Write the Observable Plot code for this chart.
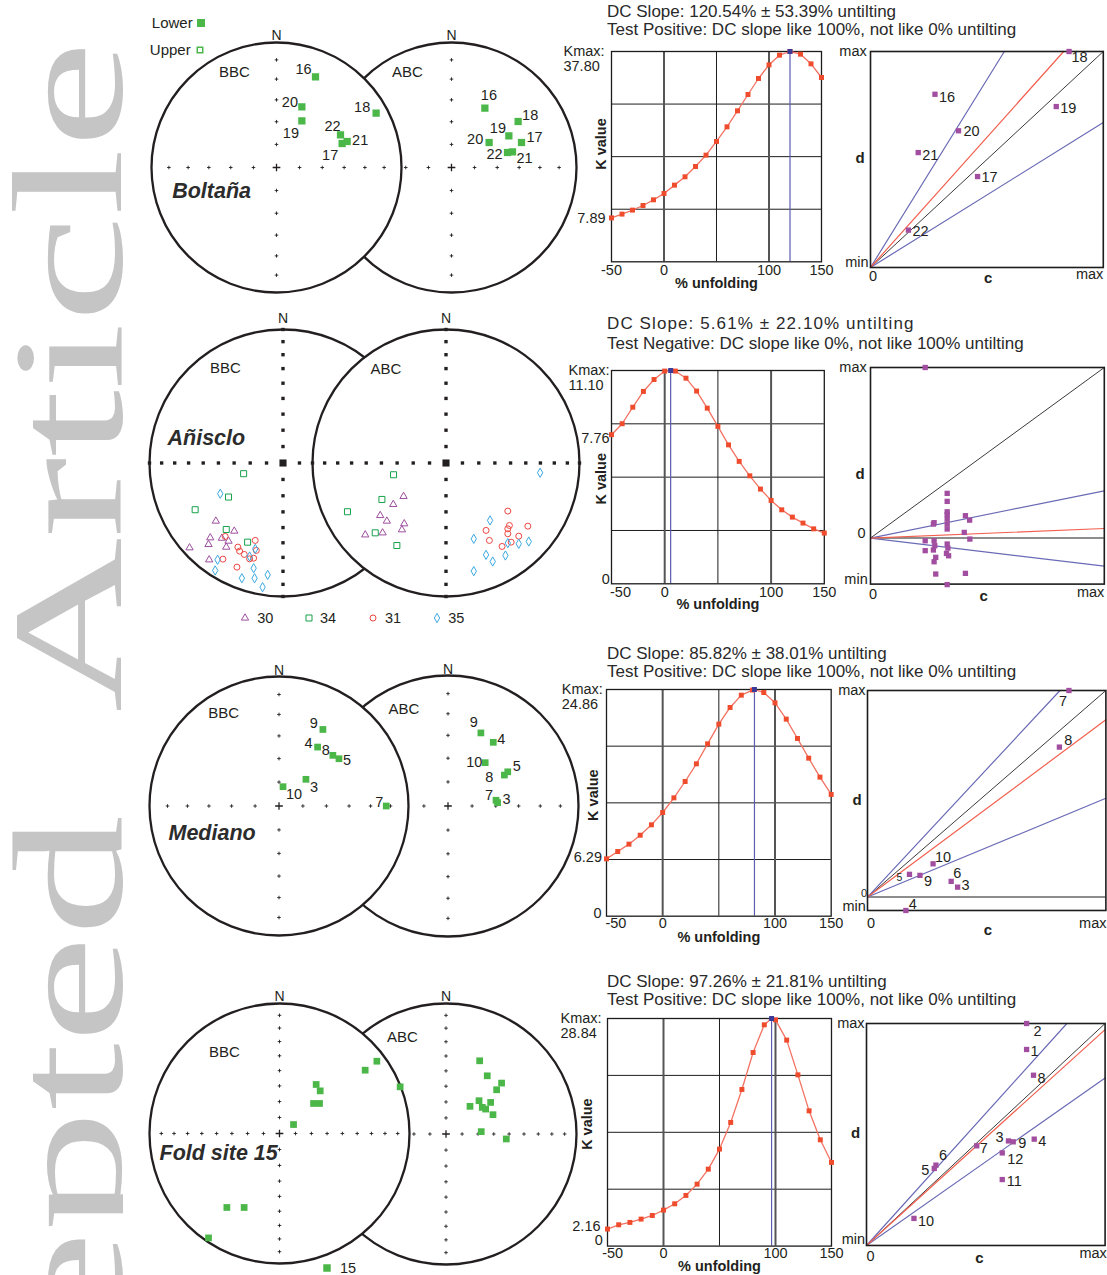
<!DOCTYPE html>
<html>
<head>
<meta charset="utf-8">
<script src="https://cdn.jsdelivr.net/npm/d3@7"></script>
<script src="https://cdn.jsdelivr.net/npm/@observablehq/plot@0.6"></script>
<style>
  html, body { margin: 0; padding: 0; background: #fff; }
  #page { position: relative; width: 1107px; height: 1275px; overflow: hidden; background: #fff;
          font-family: "Liberation Sans", Arial, Helvetica, sans-serif; color: #231f20; }
</style>
</head>
<body>
<div id="page"></div>
<script>
// ======================= DATA =======================
// % unfolding steps of the incremental fold test
const unfolding = [-50,-40,-30,-20,-10,0,10,20,30,40,50,60,70,80,90,100,110,120,130,140,150];
const xTickLabels = [-50, 0, 100, 150];

// K value at each unfolding step
const kBoltana = [7.89,8.57,9.29,10.12,11.14,12.28,13.78,15.28,17.13,19.17,21.63,24.26,27.14,30.07,32.95,35.40,37.14,37.80,37.32,35.58,33.13];
const kAnisclo = [7.76,8.33,9.19,10.01,10.63,11.07,11.07,10.70,10.03,9.14,8.19,7.23,6.37,5.62,4.93,4.34,3.85,3.47,3.16,2.86,2.64];
const kMediano = [6.29,7.09,7.90,8.88,10.02,11.37,12.98,14.77,16.71,18.90,21.06,22.89,24.24,24.80,24.53,23.40,21.61,19.49,17.33,15.25,13.35];
const kFold    = [2.16,2.70,3.00,3.42,3.88,4.56,5.36,6.42,7.85,9.75,12.29,15.67,19.85,24.53,28.04,28.67,26.10,21.70,17.14,13.47,10.60];

// Kmax, value at -50 %, and % unfolding at Kmax
const kmaxValues = [37.80, 11.10, 24.86, 28.84];
const kminValues = [7.89, 7.76, 6.29, 2.16];
const kmaxAt     = [120, 5.6, 81.7, 96.5];

// DC slope test (Enkin): slope and error in %
const dcSlope = [120.54, 5.61, 85.82, 97.26];
const dcError = [53.39, 22.10, 38.01, 21.81];
const dcTest  = ["Test Positive: DC slope like 100%, not like 0% untilting",
                 "Test Negative: DC slope like 0%, not like 100% untilting",
                 "Test Positive: DC slope like 100%, not like 0% untilting",
                 "Test Positive: DC slope like 100%, not like 0% untilting"];
const siteNames = ["Boltaña", "Añisclo", "Mediano", "Fold site 15"];

// Site means on equal-area nets (east, north in net radius units), BBC = before, ABC = after bedding correction
const boltanaBBC = [
  {site:"16", e:0.312, n:0.725}, {site:"20", e:0.203, n:0.485}, {site:"19", e:0.203, n:0.373},
  {site:"18", e:0.797, n:0.435}, {site:"22", e:0.512, n:0.261}, {site:"21", e:0.565, n:0.208},
  {site:"17", e:0.525, n:0.192}];
const boltanaABC = [
  {site:"16", e:0.267, n:0.475}, {site:"18", e:0.533, n:0.368}, {site:"19", e:0.459, n:0.253},
  {site:"17", e:0.560, n:0.200}, {site:"20", e:0.301, n:0.200}, {site:"22", e:0.448, n:0.120},
  {site:"21", e:0.488, n:0.125}];

// Añisclo specimen directions (upper hemisphere), per site
const anisclo30BBC = [[-0.503,-0.435],[-0.365,-0.51],[-0.545,-0.56],[-0.558,-0.61],[-0.458,-0.563],[-0.408,-0.585],[-0.425,-0.63],[-0.70,-0.635],[-0.553,-0.725]];
const anisclo34BBC = [[-0.295,-0.08],[-0.408,-0.255],[-0.658,-0.35],[-0.425,-0.498],[-0.265,-0.593]];
const anisclo31BBC = [[-0.433,-0.55],[-0.208,-0.58],[-0.338,-0.63],[-0.325,-0.66],[-0.29,-0.685],[-0.22,-0.713],[-0.25,-0.718],[-0.45,-0.72],[-0.345,-0.78],[-0.2,-0.655]];
const anisclo35BBC = [[-0.47,-0.23],[-0.208,-0.643],[-0.25,-0.70],[-0.49,-0.725],[-0.508,-0.805],[-0.22,-0.788],[-0.308,-0.863],[-0.213,-0.863],[-0.115,-0.838],[-0.153,-0.93]];
const anisclo30ABC = [[-0.318,-0.25],[-0.395,-0.31],[-0.493,-0.393],[-0.443,-0.435],[-0.313,-0.455],[-0.33,-0.50],[-0.475,-0.523],[-0.605,-0.538]];
const anisclo34ABC = [[-0.393,-0.088],[-0.48,-0.273],[-0.738,-0.365],[-0.53,-0.523],[-0.368,-0.618]];
const anisclo31ABC = [[0.463,-0.36],[0.475,-0.468],[0.463,-0.493],[0.463,-0.53],[0.30,-0.505],[0.325,-0.58],[0.613,-0.473],[0.545,-0.548],[0.488,-0.593],[0.42,-0.625]];
const anisclo35ABC = [[0.705,-0.073],[0.33,-0.43],[0.208,-0.568],[0.463,-0.60],[0.545,-0.605],[0.62,-0.588],[0.30,-0.688],[0.35,-0.738],[0.445,-0.693],[0.208,-0.81]];
const aniscloSites = ["30", "34", "31", "35"];

const medianoBBC = [
  {site:"9", e:0.339, n:0.591}, {site:"4", e:0.298, n:0.455}, {site:"8", e:0.416, n:0.391},
  {site:"5", e:0.463, n:0.365}, {site:"3", e:0.208, n:0.206}, {site:"10", e:0.031, n:0.149},
  {site:"7", e:0.828, n:0.0}];
const medianoABC = [
  {site:"9", e:0.252, n:0.560}, {site:"4", e:0.347, n:0.488}, {site:"10", e:0.285, n:0.332},
  {site:"5", e:0.458, n:0.262}, {site:"8", e:0.432, n:0.237}, {site:"7", e:0.368, n:0.044},
  {site:"3", e:0.380, n:0.026}];

const foldBBC = [[0.282,0.377],[0.313,0.328],[0.262,0.231],[0.308,0.231],[0.108,0.069],[0.659,0.487],[0.749,0.556],[0.928,0.359],[-0.405,-0.569],[-0.272,-0.569],[-0.546,-0.803]];
const foldABC = [[0.258,0.561],[0.316,0.446],[0.426,0.390],[0.388,0.339],[0.253,0.255],[0.342,0.242],[0.184,0.212],[0.278,0.204],[0.304,0.191],[0.360,0.148],[0.270,0.018],[0.462,-0.038]];

// DC plots: c (0..max) and d (min..max), normalised to max
const cdBoltana = [
  {site:"18", c:0.853, d:1.0}, {site:"16", c:0.277, d:0.802}, {site:"19", c:0.798, d:0.745},
  {site:"20", c:0.378, d:0.633}, {site:"21", c:0.205, d:0.532}, {site:"17", c:0.460, d:0.421},
  {site:"22", c:0.163, d:0.173}];
const cdAnisclo = [[0.234,1.0],
  [0.328,0.262],[0.328,0.215],[0.328,0.154],[0.328,0.137],[0.328,0.111],[0.328,0.082],[0.328,0.053],
  [0.269,0.082],[0.272,0.090],[0.406,0.131],[0.424,0.105],[0.401,0.033],[0.425,-0.006],
  [0.234,-0.016],[0.234,-0.074],[0.272,-0.016],[0.275,-0.045],[0.269,-0.070],[0.279,-0.113],[0.272,-0.139],
  [0.328,-0.035],[0.331,-0.059],[0.334,-0.104],[0.325,-0.090],[0.279,-0.211],[0.328,-0.273],[0.406,-0.207]];
const cdMediano = [
  {site:"7", c:0.845, d:1.0}, {site:"8", c:0.805, d:0.726}, {site:"10", c:0.275, d:0.161},
  {site:"5", c:0.176, d:0.110}, {site:"9", c:0.220, d:0.105}, {site:"6", c:0.351, d:0.076},
  {site:"3", c:0.378, d:0.048}, {site:"4", c:0.161, d:-0.065}];
const cdFold = [
  {site:"2", c:0.671, d:1.0}, {site:"1", c:0.671, d:0.883}, {site:"8", c:0.700, d:0.767},
  {site:"4", c:0.703, d:0.479}, {site:"3", c:0.595, d:0.471}, {site:"9", c:0.615, d:0.467},
  {site:"12", c:0.569, d:0.417}, {site:"7", c:0.462, d:0.449}, {site:"11", c:0.569, d:0.297},
  {site:"6", c:0.291, d:0.362}, {site:"5", c:0.284, d:0.347}, {site:"10", c:0.199, d:0.122}];
const cdMin = [0, -0.27, -0.065, 0];

// ======================= STYLE / LAYOUT =======================
const FONT = '"Liberation Sans", Arial, Helvetica, sans-serif';
const INK = "#231f20";
const GREEN = "#4cb749";
const PURPLE = "#a24ea0";
const page = document.getElementById("page");
const NS = "http://www.w3.org/2000/svg";

// label offsets (px) for point labels
const offBoltanaBBC = {"16":[-12,-8],"20":[-12,-5],"19":[-11,12],"18":[-14,-6],"22":[-8,-9],"21":[13,-1],"17":[-12,12]};
const offBoltanaABC = {"16":[4,-13],"18":[12,-6],"19":[-11,-8],"17":[13,-5],"20":[-14,-3],"22":[-13,2],"21":[12,6]};
const offMedianoBBC = {"9":[-9,-6],"4":[-9,-4],"8":[-7,-5],"5":[8,2],"3":[8,8],"10":[11,8],"7":[-7,-4]};
const offMedianoABC = {"9":[-7,-11],"4":[8,-3],"10":[-11,0],"5":[9,-5],"8":[-15,2],"7":[-7,-5],"3":[9,-3]};
const offCdBoltana = {"18":[10.5,6],"16":[12,3],"19":[12,2],"20":[13,1],"21":[12,3],"17":[12,1],"22":[12,1]};
const offCdMediano = {"7":[-6,11],"8":[9,-7],"10":[10,-6],"5":[-10,3],"9":[8,6],"6":[6,-8],"3":[8,-2],"4":[7,-6]};
const offCdFold = {"2":[11,8],"1":[8,2],"8":[8,3],"4":[8,2],"3":[-9,-4],"9":[9,1.5],"12":[13,6],"7":[7,3],"11":[12,2],"6":[7,-10],"5":[-9,2],"10":[12,3]};

const aniscloStyle = {
  "30": {symbol:"triangle", stroke:"#9c4f9e", r:2.7},
  "34": {symbol:"square",   stroke:"#16a24b", r:3.4},
  "31": {symbol:"circle",   stroke:"#ec4640", r:3.0},
  "35": {symbol:"diamond",  stroke:"#3aa8e1", r:2.8}
};

function put(el, left, top) {
  el.style.position = "absolute";
  el.style.left = left + "px";
  el.style.top = top + "px";
  el.style.overflow = "visible";
  page.appendChild(el);
  return el;
}
function label(str, {x, cy, size = 15, weight = "normal", anchor = "start", spacing = 0, color = INK}) {
  const d = document.createElement("div");
  d.textContent = str;
  Object.assign(d.style, {position: "absolute", whiteSpace: "nowrap", fontFamily: FONT, fontSize: size + "px",
    fontWeight: weight, lineHeight: (size * 1.2) + "px", color, letterSpacing: spacing + "px"});
  d.style.top = (cy - size * 0.59) + "px";
  if (anchor === "end") d.style.right = (1107 - x) + "px"; else d.style.left = x + "px";
  page.appendChild(d);
}
function icon(type, size, cx, cy, {fill = "none", stroke = "none", sw = 1}) {
  const svg = document.createElementNS(NS, "svg");
  svg.setAttribute("width", 20); svg.setAttribute("height", 20);
  const p = document.createElementNS(NS, "path");
  p.setAttribute("d", d3.symbol(type, size)());
  p.setAttribute("transform", "translate(10,10)");
  p.setAttribute("fill", fill); p.setAttribute("stroke", stroke); p.setAttribute("stroke-width", sw);
  svg.appendChild(p);
  put(svg, cx - 10, cy - 10);
}

const baseStyle = {background: "transparent", overflow: "visible", fontFamily: FONT, color: INK};

// ---------- stereonet ----------
function netPlot({cx, cy, R, incs, tick, fill, nGap, name, nameOff, site, marks}) {
  const M = 30;
  const ticks = [];
  incs.forEach(inc => {
    const r = Math.SQRT2 * Math.sin((90 - inc) / 2 * Math.PI / 180);
    ticks.push({x: r, y: 0}, {x: -r, y: 0}, {x: 0, y: r}, {x: 0, y: -r});
  });
  const centre = [{x: 0, y: 0}];
  const tickMarks = tick === "plus"
    ? [Plot.dot(ticks, {x: "x", y: "y", symbol: "plus", r: 1.25, stroke: INK, strokeWidth: 0.9}),
       Plot.dot(centre, {x: "x", y: "y", symbol: "plus", r: 2.6, stroke: INK, strokeWidth: 1.3})]
    : [Plot.dot(ticks, {x: "x", y: "y", symbol: "square", r: 1.9, fill: INK}),
       Plot.dot(centre, {x: "x", y: "y", symbol: "square", r: 4, fill: INK})];
  const all = [
    Plot.dot(centre, {x: "x", y: "y", r: R, stroke: INK, strokeWidth: 2.3, fill}),
    ...tickMarks,
    Plot.text(["N"], {x: 0, y: 1, dy: -nGap, fontSize: 14, fill: INK}),
    Plot.text([name], {x: 0, y: 0, dx: nameOff[0], dy: nameOff[1], fontSize: 15, fill: INK}),
    site ? Plot.text([site.name], {x: -1, y: 0, dx: site.dx, dy: site.dy, textAnchor: "start", fontSize: 21.5,
      fontWeight: "bold", fontStyle: "italic", fill: "#2c2c2c"}) : null,
    ...marks
  ].filter(Boolean);
  const svg = Plot.plot({
    width: 2 * R + 2 * M, height: 2 * R + 2 * M, margin: M,
    x: {domain: [-1, 1]}, y: {domain: [-1, 1]}, axis: null,
    style: baseStyle, marks: all
  });
  put(svg, cx - R - M, cy - R - M);
}
function labelledSquares(points, offs, r) {
  return [
    Plot.dot(points, {x: "e", y: "n", symbol: "square", r, fill: GREEN}),
    ...points.map(p => Plot.text([p], {x: "e", y: "n", text: "site", dx: offs[p.site][0], dy: offs[p.site][1], fontSize: 14.5, fill: INK}))
  ];
}
function plainSquares(pairs, r) {
  return [Plot.dot(pairs, {x: d => d[0], y: d => d[1], symbol: "square", r, fill: GREEN})];
}
function aniscloMarks(sets) {
  return aniscloSites.map((s, i) => {
    const st = aniscloStyle[s];
    return Plot.dot(sets[i], {x: d => d[0], y: d => d[1], symbol: st.symbol, r: st.r, fill: "none", stroke: st.stroke, strokeWidth: 1});
  });
}

// ---------- K value vs % unfolding ----------
function kPlot(i, {frame: [x0, x1, y0, y1], kmaxDx, minOff, zero, kv, firstDx, tickDy, xlabDy}) {
  const ML = 60, MR = 14, MT = 14, MB = 40;
  const values = [kBoltana, kAnisclo, kMediano, kFold][i];
  const kmax = kmaxValues[i], kmin = kminValues[i];
  const data = unfolding.map((u, j) => ({u, k: values[j]}));
  const peak = {u: kmaxAt[i], k: kmax};
  const lineData = [...data, peak].sort((a, b) => a.u - b.u);
  const fs = 14.5;
  const marks = [
    Plot.ruleY([0.25, 0.5, 0.75].map(f => f * kmax), {stroke: "#1c1c1c", strokeWidth: 1}),
    Plot.ruleX([50], {stroke: "#1c1c1c", strokeWidth: 1}),
    Plot.ruleX([0, 100], {stroke: "#555", strokeWidth: 2}),
    Plot.ruleX([peak.u], {stroke: "#5c5cb0", strokeWidth: 1.2}),
    Plot.frame({stroke: "#1c1c1c", strokeWidth: 1.3}),
    Plot.line(lineData, {x: "u", y: "k", stroke: "#f37262", strokeWidth: 1.3}),
    Plot.dot(data, {x: "u", y: "k", symbol: "square", r: 2.8, fill: "#ef4b2d"}),
    Plot.dot([peak], {x: "u", y: "k", symbol: "square", r: 2.8, fill: "#3c3b98"}),
    Plot.text([xTickLabels[0]], {x: d => d, frameAnchor: "bottom", lineAnchor: "middle", dy: tickDy, dx: firstDx, text: d => String(d), fontSize: fs}),
    Plot.text(xTickLabels.slice(1), {x: d => d, frameAnchor: "bottom", lineAnchor: "middle", dy: tickDy, text: d => String(d), fontSize: fs}),
    Plot.text(["% unfolding"], {frameAnchor: "bottom", lineAnchor: "middle", textAnchor: "middle", dy: xlabDy, fontWeight: "bold", fontSize: fs}),
    Plot.text(["K value"], {frameAnchor: "left", textAnchor: "middle", lineAnchor: "middle", rotate: -90, dx: kv[0], dy: kv[1], fontWeight: "bold", fontSize: fs}),
    Plot.text([`Kmax:\n${kmax.toFixed(2)}`], {frameAnchor: "top-left", textAnchor: "start", lineAnchor: "top", dx: kmaxDx, dy: -7.3, lineHeight: 1.1, fontSize: fs}),
    Plot.text([kmin], {x: -50, y: d => d, text: d => d.toFixed(2), textAnchor: "end", dx: minOff[0], dy: minOff[1], fontSize: fs}),
    zero ? Plot.text([0], {x: -50, y: d => d, text: d => String(d), textAnchor: "end", dx: zero[0], dy: zero[1], fontSize: fs}) : null
  ].filter(Boolean);
  const svg = Plot.plot({
    width: (x1 - x0) + ML + MR, height: (y1 - y0) + MT + MB,
    marginLeft: ML, marginRight: MR, marginTop: MT, marginBottom: MB,
    x: {domain: [-50, 150]}, y: {domain: [0, kmax]}, axis: null,
    style: baseStyle, marks
  });
  put(svg, x0 - ML, y0 - MT);
}

// ---------- DC plot (d vs c) ----------
function cdPlot(i, {frame: [x0, x1, y0, y1], lab}) {
  const ML = 50, MR = 14, MT = 12, MB = 34;
  const dmin = cdMin[i];
  const raw = [cdBoltana, cdAnisclo, cdMediano, cdFold][i];
  const pts = raw.map(p => Array.isArray(p) ? {c: p[0], d: p[1]} : p);
  const offs = [offCdBoltana, null, offCdMediano, offCdFold][i];
  const seg = s => {
    const c = s >= 0 ? Math.min(1, 1 / s) : Math.min(1, dmin / s);
    return [{c: 0, d: 0}, {c, d: s * c}];
  };
  const s = dcSlope[i] / 100, e = dcError[i] / 100;
  const fs = 14.5;
  const mid = {lineAnchor: "middle"};
  const marks = [
    dmin < 0 ? Plot.ruleY([0], {stroke: "#1c1c1c", strokeWidth: 1.1}) : null,
    Plot.line(seg(1), {x: "c", y: "d", stroke: "#3a3a3a", strokeWidth: 1}),
    Plot.line(seg(s + e), {x: "c", y: "d", stroke: "#6a6ab6", strokeWidth: 1.2}),
    Plot.line(seg(s - e), {x: "c", y: "d", stroke: "#6a6ab6", strokeWidth: 1.2}),
    Plot.line(seg(s), {x: "c", y: "d", stroke: "#f2604f", strokeWidth: 1.2}),
    Plot.frame({stroke: "#1c1c1c", strokeWidth: 1.6}),
    Plot.dot(pts, {x: "c", y: "d", symbol: "square", r: 3, fill: PURPLE}),
    ...(offs ? pts.map(p => Plot.text([p], {x: "c", y: "d", text: "site", dx: offs[p.site][0], dy: offs[p.site][1],
        fontSize: (i === 2 && p.site === "5") ? 10.5 : fs, fill: INK})) : []),
    Plot.text(["max"], {...mid, frameAnchor: "top-left", textAnchor: "end", dx: lab.maxTop[0], dy: lab.maxTop[1], fontSize: fs}),
    Plot.text(["min"], {...mid, frameAnchor: "bottom-left", textAnchor: "end", dx: lab.min[0], dy: lab.min[1], fontSize: fs}),
    Plot.text(["d"], {...mid, frameAnchor: "left", textAnchor: "middle", dx: lab.d[0], dy: lab.d[1], fontWeight: "bold", fontSize: 15}),
    lab.d0 ? Plot.text([0], {x: 0, y: d => d, text: d => String(d), textAnchor: "end", dx: lab.d0[0], dy: lab.d0[1], fontSize: lab.d0[2]}) : null,
    Plot.text(["0"], {...mid, frameAnchor: "bottom-left", textAnchor: "middle", dx: lab.c0[0], dy: lab.c0[1], fontSize: fs}),
    Plot.text(["c"], {...mid, frameAnchor: "bottom", textAnchor: "middle", dx: lab.c[0], dy: lab.c[1], fontWeight: "bold", fontSize: 15}),
    Plot.text(["max"], {...mid, frameAnchor: "bottom-right", textAnchor: "end", dx: lab.maxRight[0], dy: lab.maxRight[1], fontSize: fs})
  ].filter(Boolean);
  const svg = Plot.plot({
    width: (x1 - x0) + ML + MR, height: (y1 - y0) + MT + MB,
    marginLeft: ML, marginRight: MR, marginTop: MT, marginBottom: MB,
    x: {domain: [0, 1]}, y: {domain: [dmin, 1]}, axis: null,
    style: baseStyle, marks
  });
  put(svg, x0 - ML, y0 - MT);
}

// ======================= WATERMARK =======================
(function watermark() {
  const svg = document.createElementNS(NS, "svg");
  svg.setAttribute("width", 123); svg.setAttribute("height", 1275);
  [["Article", 41], ["Accepted", 815]].forEach(([t, y]) => {
    const tx = document.createElementNS(NS, "text");
    tx.textContent = t;
    tx.setAttribute("transform", `translate(121,${y}) rotate(-90) scale(1.54,1)`);
    tx.setAttribute("text-anchor", "end");
    tx.setAttribute("font-family", '"Liberation Serif", "Times New Roman", serif');
    tx.setAttribute("font-size", 157);
    tx.setAttribute("fill", "#c5c5c5");
    svg.appendChild(tx);
  });
  put(svg, 0, 0);
  svg.style.overflow = "hidden";
})();

// ======================= ROWS =======================
const rows = [
  { top: "bbc",
    net: {abc: {cx: 450.7, cy: 166.7, R: 125}, bbc: {cx: 276, cy: 166.7, R: 125}, incs: [15,30,45,60,75], tick: "plus",
          nGap: 7.4, bbcLab: [-42,-95], abcLab: [-44,-95], site: {dx: 20.7, dy: 24}},
    k: {frame: [611, 821, 50.7, 261], kmaxDx: -48, minOff: [-6, 0], zero: null, kv: [-9.8, -12.6], firstDx: 0, tickDy: 8.3, xlabDy: 21.7},
    cd: {frame: [869.8, 1102.6, 50.7, 266.7], lab: {maxTop: [-3.8, 0], min: [-2, -5], d: [-10.4, -1.4], c0: [2.5, 9.3], c: [1.2, 10.6], maxRight: [0, 7.3]}},
    title: [11.7, 30] },
  { top: "abc",
    net: {abc: {cx: 445, cy: 462.7, R: 133.5}, bbc: {cx: 282.7, cy: 462.7, R: 133.5}, incs: [10,20,30,40,50,60,70,80,0], tick: "square",
          nGap: 11, bbcLab: [-57.7,-95], abcLab: [-60,-93.4], site: {dx: 18, dy: -24.4}},
    k: {frame: [610.6, 823.4, 370, 583.3], kmaxDx: -43, minOff: [-2, 4], zero: [-1.6, -4], kv: [-10.6, 1.6], firstDx: 9, tickDy: 8.4, xlabDy: 20.7},
    cd: {frame: [869.8, 1103.6, 366.7, 583.3], lab: {maxTop: [-3.8, 0], min: [-2.8, -5], d: [-10.4, -1.7], d0: [-5, -4.6, 14.5], c0: [2.5, 10.7], c: [-3.8, 11.7], maxRight: [0, 8.4]}},
    title: [324, 344], spacing: 1.1 },
  { top: "bbc",
    net: {abc: {cx: 447.3, cy: 805, R: 130.5}, bbc: {cx: 278.7, cy: 805, R: 129.5}, incs: [15,30,45,60,75], tick: "plus",
          nGap: 6.2, bbcLab: [-55.4,-92.7], abcLab: [-44,-96.7], site: {dx: 19, dy: 27.3}},
    k: {frame: [606.4, 831.1, 689.3, 916], kmaxDx: -44.7, minOff: [-4.5, -1], zero: [-5, -3.3], kv: [-13.4, -7.7], firstDx: 9.4, tickDy: 6.7, xlabDy: 20.7},
    cd: {frame: [867, 1105.4, 690, 910], lab: {maxTop: [-2, 0], min: [-1.7, -4.3], d: [-10.4, 0], d0: [-0.5, -3.4, 11], c0: [3.5, 12.7], c: [1.2, 20], maxRight: [0.6, 12.7]}},
    title: [654, 672.3] },
  { top: "bbc",
    net: {abc: {cx: 445.3, cy: 1133.3, R: 130.5}, bbc: {cx: 279.3, cy: 1133.3, R: 130}, incs: [10,20,30,40,50,60,70,80], tick: "plus",
          nGap: 7.3, bbcLab: [-55,-81.6], abcLab: [-43.6,-97.3], site: {dx: 10, dy: 20}},
    k: {frame: [607.1, 831.1, 1017.7, 1245.3], kmaxDx: -47, minOff: [-7, -3], zero: [-4.7, -5.3], kv: [-20, -8.2], firstDx: 5.2, tickDy: 7.4, xlabDy: 20.7},
    cd: {frame: [865.7, 1104.3, 1023.3, 1245.3], lab: {maxTop: [-2, 0], min: [-1.4, -6], d: [-10.9, -1], c0: [4, 10.7], c: [-6.3, 13], maxRight: [1.7, 8]}},
    title: [981.7, 1000] }
];

const abcMarks = [
  labelledSquares(boltanaABC, offBoltanaABC, 4.1),
  aniscloMarks([anisclo30ABC, anisclo34ABC, anisclo31ABC, anisclo35ABC]),
  labelledSquares(medianoABC, offMedianoABC, 3.8),
  plainSquares(foldABC, 3.8)
];
const bbcMarks = [
  labelledSquares(boltanaBBC, offBoltanaBBC, 4.1),
  aniscloMarks([anisclo30BBC, anisclo34BBC, anisclo31BBC, anisclo35BBC]),
  labelledSquares(medianoBBC, offMedianoBBC, 3.8),
  plainSquares(foldBBC, 3.8)
];

rows.forEach((row, i) => {
  const n = row.net;
  const drawABC = () => netPlot({...n.abc, incs: n.incs, tick: n.tick, fill: row.top === "abc" ? "white" : "none",
    nGap: n.nGap, name: "ABC", nameOff: n.abcLab, marks: abcMarks[i]});
  const drawBBC = () => netPlot({...n.bbc, incs: n.incs, tick: n.tick, fill: row.top === "bbc" ? "white" : "none",
    nGap: n.nGap, name: "BBC", nameOff: n.bbcLab, site: {name: siteNames[i], ...n.site}, marks: bbcMarks[i]});
  if (row.top === "bbc") { drawABC(); drawBBC(); } else { drawBBC(); drawABC(); }
  kPlot(i, row.k);
  cdPlot(i, row.cd);
  label(`DC Slope: ${dcSlope[i].toFixed(2)}% ± ${dcError[i].toFixed(2)}% untilting`, {x: 607, cy: row.title[0], size: 17, spacing: row.spacing || 0, color: "#2a2a2a"});
  label(dcTest[i], {x: 607, cy: row.title[1], size: 17, color: "#2a2a2a"});
});

// ======================= LEGENDS =======================
label("Lower", {x: 192.7, cy: 22.7, anchor: "end"});
icon(d3.symbolSquare, 64, 200.7, 22.7, {fill: GREEN});
label("Upper", {x: 190.7, cy: 50, anchor: "end"});
icon(d3.symbolSquare, 30, 200, 50, {fill: "none", stroke: GREEN, sw: 1.5});

const legendX = [[245, 257.3], [309.3, 320], [373.3, 385], [436.7, 448.3]];
const legendTypes = {triangle: d3.symbolTriangle, square: d3.symbolSquare, circle: d3.symbolCircle, diamond: d3.symbolDiamond};
aniscloSites.forEach((s, j) => {
  const st = aniscloStyle[s];
  icon(legendTypes[st.symbol], Math.PI * st.r * st.r, legendX[j][0], 618.3, {stroke: st.stroke, sw: 1});
  label(s, {x: legendX[j][1], cy: 618.3, size: 14.5});
});

icon(d3.symbolSquare, 56, 327.3, 1268.3, {fill: GREEN});
label("15", {x: 340, cy: 1268.3, size: 14.5});
</script>
</body>
</html>
